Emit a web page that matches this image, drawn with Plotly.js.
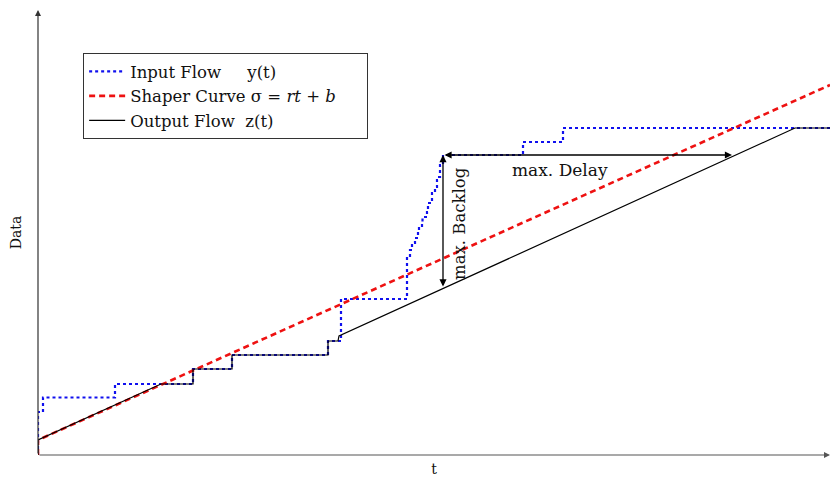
<!DOCTYPE html>
<html>
<head>
<meta charset="utf-8">
<script src="https://cdn.plot.ly/plotly-3.0.1.min.js"></script>
<style>html,body{margin:0;padding:0;background:#fff;}#chart{width:831px;height:477px;}</style>
</head>
<body>
<div id="chart"></div>
<script>
// Input flow y(t): cumulative arrivals (step points, level reached at each t)
const inputT = [0, 0, 5, 77, 155, 194, 290, 303, 369, 372, 374, 377, 380, 381, 384, 384.5, 389, 390, 394, 397, 399, 400, 402, 405, 485, 525, 792];
const inputY = [0, 43, 57.5, 71, 86, 100, 114, 156, 198, 205, 212, 217, 223, 228, 233, 238, 243, 252, 262, 268, 275, 278, 290, 300, 313, 327, 327];
// Shaper curve sigma = r t + b
const shaperT = [0, 0, 792];
const shaperY = [0, 15, 370];
// Output flow z(t)
const outputT = [0, 0, 123, 155, 155, 194, 194, 290, 290, 300, 301, 757, 792];
const outputY = [0, 15, 71, 71, 86, 86, 100, 100, 114, 114, 119, 327, 327];
// Annotated quantities
const backlogAt = 405, backlogFrom = 167, backlogTo = 300;
const delayLevel = 300, delayFrom = 405, delayTo = 694;

const fam = '"DejaVu Serif", "Liberation Serif", serif';
const font = {family: fam, color: '#111', size: 17};

const traces = [
  {x: inputT, y: inputY, mode: 'lines', line: {color: '#1010ee', width: 2.2, dash: 'dot', shape: 'hv'},
   name: 'Input Flow&nbsp;&nbsp;&nbsp;&nbsp;&nbsp;y(t)'},
  {x: shaperT, y: shaperY, mode: 'lines', line: {color: '#ee1111', width: 2.6, dash: '6px,4px'},
   name: 'Shaper Curve σ&nbsp;= <i>rt</i> + <i>b</i>&nbsp;&nbsp;&nbsp;&nbsp;&nbsp;'},
  {x: outputT, y: outputY, mode: 'lines', line: {color: '#000', width: 1.2},
   name: 'Output Flow&nbsp;&nbsp;z(t)'}
];

const arrowCommon = {showarrow: true, text: '', arrowcolor: '#000', arrowwidth: 1.3, arrowsize: 1.1,
  arrowhead: 2, axref: 'x', ayref: 'y', xref: 'x', yref: 'y', standoff: 0, startstandoff: 0};

const layout = {
  width: 831, height: 477,
  margin: {l: 38, r: 1, t: 10, b: 22},
  paper_bgcolor: '#fff', plot_bgcolor: '#fff',
  font: font,
  showlegend: true,
  legend: {x: 0.057, y: 0.903, xanchor: 'left', yanchor: 'top', bgcolor: '#fff',
    bordercolor: '#333', borderwidth: 1, font: {family: fam, size: 16.5, color: '#111'},
    itemwidth: 36, tracegroupgap: 0},
  xaxis: {range: [0, 792], showgrid: false, zeroline: false, showticklabels: false, ticks: '',
    showline: false, fixedrange: true,
    title: {text: 't', font: {family: fam, size: 14, color: '#111'}, standoff: 9}},
  yaxis: {range: [0, 445], showgrid: false, zeroline: false, showticklabels: false, ticks: '',
    showline: false, fixedrange: true,
    title: {text: 'Data', font: {family: fam, size: 14, color: '#111'}, standoff: 12}},
  annotations: [
    // axes with arrows
    Object.assign({}, arrowCommon, {x: 792, y: 0, ax: 0, ay: 0, arrowcolor: '#555', arrowwidth: 1.2, arrowhead: 2, arrowsize: 1}),
    Object.assign({}, arrowCommon, {x: 0, y: 445, ax: 0, ay: 0, arrowcolor: '#333', arrowwidth: 1.2, arrowhead: 2, arrowsize: 1}),
    // max backlog
    Object.assign({}, arrowCommon, {x: backlogAt, y: backlogTo, ax: backlogAt, ay: backlogFrom, arrowside: 'end+start'}),
    // max delay
    Object.assign({}, arrowCommon, {x: delayTo, y: delayLevel, ax: delayFrom, ay: delayLevel, arrowside: 'end+start'}),
    {x: 522, y: 285, xref: 'x', yref: 'y', text: 'max. Delay', showarrow: false, font: {family: fam, size: 17, color: '#111'}},
    {x: 421, y: 231, xref: 'x', yref: 'y', text: 'max. Backlog', showarrow: false, textangle: -90, font: {family: fam, size: 16.5, color: '#111'}}
  ]
};

Plotly.newPlot('chart', traces, layout, {displayModeBar: false, staticPlot: true});
</script>
</body>
</html>
